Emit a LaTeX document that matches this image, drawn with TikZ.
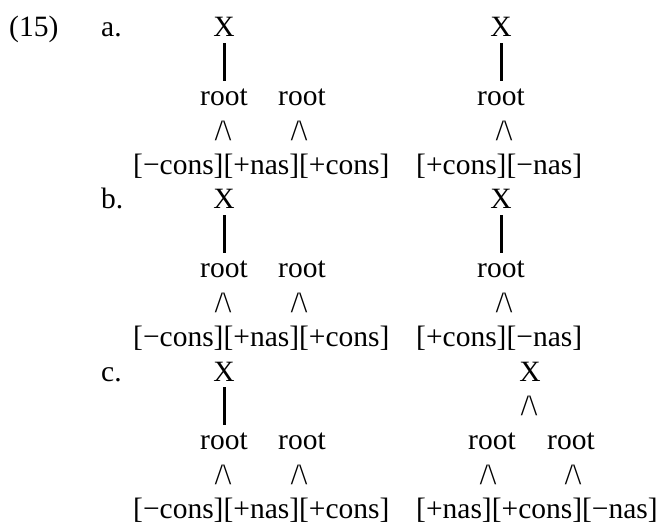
\documentclass[tikz,border=0pt]{standalone}
\usepackage{fontspec}
\setmainfont{Liberation Serif}
\newcommand\wdg{/\textbackslash}
\begin{document}
\begin{tikzpicture}[x=1pt,y=1pt,
  txt/.style={anchor=base, inner sep=0pt, font=\fontsize{29.5}{34.4}\selectfont},
  stem/.style={line width=3pt, shorten >=8pt}]
\useasboundingbox (0,0) rectangle (662,-524);
\node[txt, anchor=base west] (ex) at (9,-37) {(15)};
\foreach \g/\lab/\k in {a/a./0, b/b./5, c/c./10} {
  \pgfmathsetmacro\yA{-(37+34.4*\k)}
  \pgfmathsetmacro\yC{-(37+34.4*(\k+2))}
  \pgfmathsetmacro\yD{-(37+34.4*(\k+3))}
  \pgfmathsetmacro\yE{-(37+34.4*(\k+4))}
  \node[txt, anchor=base west] (lab\g) at (101,\yA) {\lab};
  \node[txt] (X\g) at (224,\yA) {X};
  \node[txt] (r\g1) at (224,\yC) {root};
  \node[txt] (r\g2) at (302,\yC) {root};
  \node[txt] (w\g1) at (223,\yD) {\wdg};
  \node[txt] (w\g2) at (299,\yD) {\wdg};
  \node[txt, anchor=base west] (f\g) at (133,\yE) {[−cons][+nas][+cons]};
  \draw[stem] ([yshift=-6pt]X\g.south) -- (X\g.south |- r\g1.north);
}
\foreach \g/\k in {a/0, b/5} {
  \pgfmathsetmacro\yA{-(37+34.4*\k)}
  \pgfmathsetmacro\yC{-(37+34.4*(\k+2))}
  \pgfmathsetmacro\yD{-(37+34.4*(\k+3))}
  \pgfmathsetmacro\yE{-(37+34.4*(\k+4))}
  \node[txt] (XR\g) at (501,\yA) {X};
  \node[txt] (rR\g) at (501,\yC) {root};
  \node[txt] (wR\g) at (504,\yD) {\wdg};
  \node[txt, anchor=base west] (fR\g) at (416,\yE) {[+cons][−nas]};
  \draw[stem] ([yshift=-6pt]XR\g.south) -- (XR\g.south |- rR\g.north);
}
\pgfmathsetmacro\yA{-(37+34.4*10)}
\pgfmathsetmacro\yB{-(37+34.4*11)}
\pgfmathsetmacro\yC{-(37+34.4*12)}
\pgfmathsetmacro\yD{-(37+34.4*13)}
\pgfmathsetmacro\yE{-(37+34.4*14)}
\node[txt] (XRc) at (530,\yA) {X};
\node[txt] (wRc0) at (529,\yB) {\wdg};
\node[txt] (rRc1) at (492,\yC) {root};
\node[txt] (rRc2) at (571,\yC) {root};
\node[txt] (wRc1) at (488,\yD) {\wdg};
\node[txt] (wRc2) at (573,\yD) {\wdg};
\node[txt, anchor=base west] (fRc) at (416,\yE) {[+nas][+cons][−nas]};
\end{tikzpicture}
\end{document}
